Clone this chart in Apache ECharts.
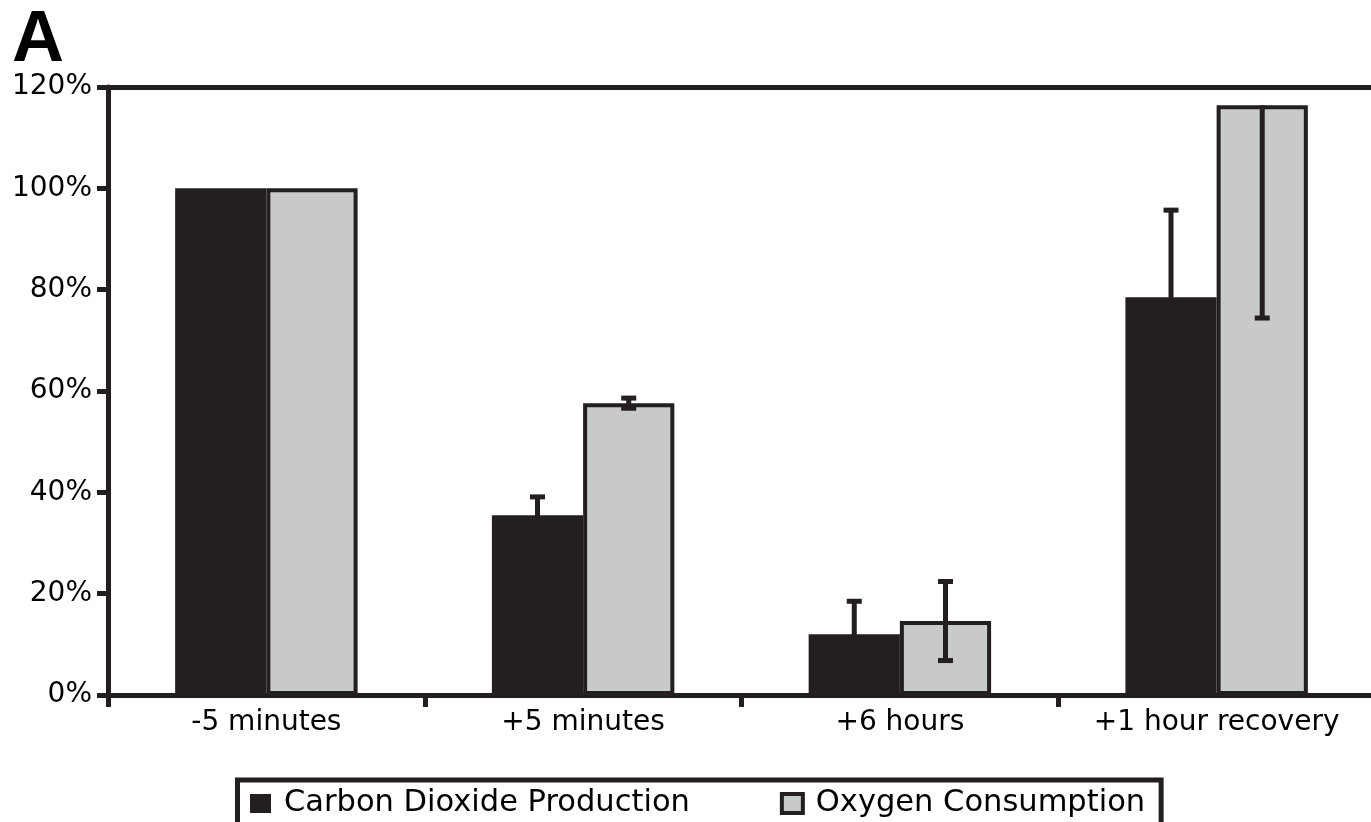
<!DOCTYPE html>
<html>
<head>
<meta charset="utf-8">
<script src="https://cdn.jsdelivr.net/npm/echarts@6/dist/echarts.min.js"></script>
<style>
html,body{margin:0;padding:0;background:#fff;}
#chart{width:1371px;height:822px;}
</style>
</head>
<body>
<div id="chart"></div>
<script>
const categories = ['-5 minutes', '+5 minutes', '+6 hours', '+1 hour recovery'];
const seriesNames = ['Carbon Dioxide Production', 'Oxygen Consumption'];
const co2Values = [100, 35.5, 12.0, 78.5];
const o2Values = [100, 57.6, 14.6, 116.4];
const co2Errors = [0, 3.6, 6.5, 17.2];
const o2Errors = [0, 1.0, 7.8, 42.0];
const yMin = 0, yMax = 120, yStep = 20;

const DARK = '#231f20';
const GRAY = '#c8c9cb';
const BAR_FRAC = 0.288;
const FONT = 'DejaVu Sans';

function errRenderer(sign) {
  return function (params, api) {
    const cat = api.value(0), v = api.value(1), e = api.value(2);
    if (!e) return null;
    const cw = api.size([1, 0])[0];
    const c = api.coord([cat, v]);
    const x = c[0] + sign * cw * BAR_FRAC / 2;
    const hi = v + e, lo = Math.max(v - e, yMin);
    const yLo = api.coord([cat, lo])[1];
    const showHi = hi <= yMax;
    const yTop = showHi ? api.coord([cat, hi])[1] : c[1];
    const st = { fill: DARK };
    const children = [
      { type: 'rect', shape: { x: x - 2.5, y: yTop, width: 5, height: yLo - yTop }, style: st },
      { type: 'rect', shape: { x: x - 7.5, y: yLo - 2.5, width: 15, height: 5 }, style: st }
    ];
    if (showHi) {
      children.push({ type: 'rect', shape: { x: x - 7.5, y: yTop - 2.5, width: 15, height: 5 }, style: st });
    }
    return { type: 'group', children: children };
  };
}

const chart = echarts.init(document.getElementById('chart'), null, { renderer: 'canvas' });
chart.setOption({
  animation: false,
  backgroundColor: '#fff',
  title: {
    text: 'A', left: 7, top: 0,
    textStyle: { fontFamily: 'Liberation Sans', fontSize: 72, fontWeight: 'bold', color: '#000' }
  },
  grid: { left: 108, right: -4, top: 87, bottom: 127, containLabel: false, outerBoundsMode: 'none' },
  legend: {
    data: [
      { name: seriesNames[0], itemStyle: { color: DARK, borderWidth: 0 } },
      { name: seriesNames[1], itemStyle: { color: GRAY, borderColor: DARK, borderWidth: 4 } }
    ],
    left: 237.5, top: 780,
    orient: 'horizontal',
    icon: 'rect',
    itemWidth: 21, itemHeight: 19,
    itemGap: 90,
    padding: [8, 16, 40, 12.5],
    borderColor: DARK, borderWidth: 5,
    textStyle: { fontFamily: FONT, fontSize: 30.5, color: '#000', lineHeight: 30, padding: [0, 0, 0, 8] }
  },
  xAxis: [{
    type: 'category', data: categories, position: 'bottom',
    axisLine: { show: true, lineStyle: { color: DARK, width: 5 } },
    axisTick: { show: true, interval: 0, length: 12, lineStyle: { color: DARK, width: 5 } },
    axisLabel: { interval: 0, fontFamily: FONT, fontSize: 28, color: '#000', margin: 14 },
    splitLine: { show: false }
  }, {
    type: 'category', data: categories, position: 'top',
    axisLine: { show: true, lineStyle: { color: DARK, width: 5 } },
    axisTick: { show: false }, axisLabel: { show: false }, splitLine: { show: false }
  }],
  yAxis: {
    type: 'value', min: yMin, max: yMax, interval: yStep,
    axisLine: { show: true, lineStyle: { color: DARK, width: 5 } },
    axisTick: { show: true, length: 11, lineStyle: { color: DARK, width: 5 } },
    axisLabel: { fontFamily: FONT, fontSize: 28, color: '#000', margin: 16, formatter: '{value}%' },
    splitLine: { show: false }
  },
  series: [{
    name: seriesNames[0], type: 'bar', data: co2Values,
    barWidth: (BAR_FRAC * 100) + '%', barGap: '0%',
    itemStyle: { color: DARK, borderWidth: 0 }, z: 2
  }, {
    name: seriesNames[1], type: 'bar', data: o2Values,
    barWidth: (BAR_FRAC * 100) + '%', barGap: '0%',
    itemStyle: { color: GRAY, borderColor: DARK, borderWidth: 4 }, z: 2
  }, {
    name: 'co2err', type: 'custom', z: 5,
    renderItem: errRenderer(-1),
    data: co2Values.map((v, i) => [i, v, co2Errors[i]]),
    encode: { x: 0, y: 1 }, silent: true
  }, {
    name: 'o2err', type: 'custom', z: 5,
    renderItem: errRenderer(1),
    data: o2Values.map((v, i) => [i, v, o2Errors[i]]),
    encode: { x: 0, y: 1 }, silent: true
  }]
});
</script>
</body>
</html>
